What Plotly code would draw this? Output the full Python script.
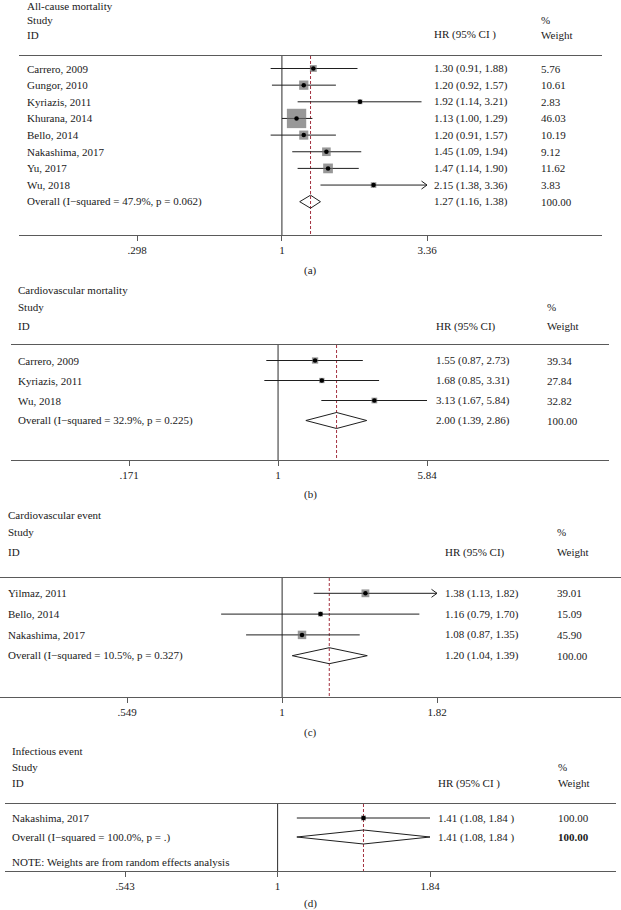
import math
import plotly.graph_objects as go

W, H = 621, 910

# ------------------------------------------------------------------ data
a_title = "All-cause mortality"
a_studies = ["Carrero, 2009", "Gungor, 2010", "Kyriazis, 2011", "Khurana, 2014",
             "Bello, 2014", "Nakashima, 2017", "Yu, 2017", "Wu, 2018"]
a_hr = [1.30, 1.20, 1.92, 1.13, 1.20, 1.45, 1.47, 2.15]
a_lo = [0.91, 0.92, 1.14, 1.00, 0.91, 1.09, 1.14, 1.38]
a_hi = [1.88, 1.57, 3.21, 1.29, 1.57, 1.94, 1.90, 3.36]
a_weight = [5.76, 10.61, 2.83, 46.03, 10.19, 9.12, 11.62, 3.83]
a_truncated = [False, False, False, False, False, False, False, True]
a_overall_label = "Overall (I\u2212squared = 47.9%, p = 0.062)"
a_overall = [1.27, 1.16, 1.38]
a_overall_weight = 100.00
a_ticks = [0.298, 1, 3.36]
a_ticklabels = [".298", "1", "3.36"]

b_title = "Cardiovascular mortality"
b_studies = ["Carrero, 2009", "Kyriazis, 2011", "Wu, 2018"]
b_hr = [1.55, 1.68, 3.13]
b_lo = [0.87, 0.85, 1.67]
b_hi = [2.73, 3.31, 5.84]
b_weight = [39.34, 27.84, 32.82]
b_truncated = [False, False, False]
b_overall_label = "Overall (I\u2212squared = 32.9%, p = 0.225)"
b_overall = [2.00, 1.39, 2.86]
b_overall_weight = 100.00
b_ticks = [0.171, 1, 5.84]
b_ticklabels = [".171", "1", "5.84"]

c_title = "Cardiovascular event"
c_studies = ["Yilmaz, 2011", "Bello, 2014", "Nakashima, 2017"]
c_hr = [1.38, 1.16, 1.08]
c_lo = [1.13, 0.79, 0.87]
c_hi = [1.82, 1.70, 1.35]
c_weight = [39.01, 15.09, 45.90]
c_truncated = [True, False, False]
c_overall_label = "Overall (I\u2212squared = 10.5%, p = 0.327)"
c_overall = [1.20, 1.04, 1.39]
c_overall_weight = 100.00
c_ticks = [0.549, 1, 1.82]
c_ticklabels = [".549", "1", "1.82"]

d_title = "Infectious event"
d_studies = ["Nakashima, 2017"]
d_hr = [1.41]
d_lo = [1.08]
d_hi = [1.84]
d_weight = [100.00]
d_truncated = [False]
d_overall_label = "Overall (I\u2212squared = 100.0%, p = .)"
d_overall = [1.41, 1.08, 1.84]
d_overall_weight = 100.00
d_ticks = [0.543, 1, 1.84]
d_ticklabels = [".543", "1", "1.84"]
d_note = "NOTE: Weights are from random effects analysis"

panel_letters = ["(a)", "(b)", "(c)", "(d)"]

# ------------------------------------------------------------------ styles / positions
FONT = "Liberation Serif, Times New Roman, serif"
FS = 11
TXT = "#1a1a1a"
GREY = "#6c6c6c"
RED = "#a3313f"
AXC = "#5a5a5a"

panels = [
    dict(title=a_title, studies=a_studies, hr=a_hr, lo=a_lo, hi=a_hi, w=a_weight, trunc=a_truncated,
         olab=a_overall_label, ov=a_overall, ow=a_overall_weight, ticks=a_ticks, ticklabels=a_ticklabels,
         L=19, R=602, top=56, bottom=235, row0=68.5, rowlast=201.7, tick_px=(137, 427),
         label_x=26, hr_x=433, wt_x=540, head_y=(6, 20, 35), hr_head="HR (95% CI )",
         letter_y=270, box_k=2.85, ci_fmt="{:.2f} ({:.2f}, {:.2f})", dia=6.5, note=None),
    dict(title=b_title, studies=b_studies, hr=b_hr, lo=b_lo, hi=b_hi, w=b_weight, trunc=b_truncated,
         olab=b_overall_label, ov=b_overall, ow=b_overall_weight, ticks=b_ticks, ticklabels=b_ticklabels,
         L=11, R=609, top=345, bottom=460, row0=360.5, rowlast=420.5, tick_px=(129, 427),
         label_x=17, hr_x=435, wt_x=546, head_y=(290, 307, 326), hr_head="HR (95% CI)",
         letter_y=495, box_k=1.0, ci_fmt="{:.2f} ({:.2f}, {:.2f})", dia=8, note=None),
    dict(title=c_title, studies=c_studies, hr=c_hr, lo=c_lo, hi=c_hi, w=c_weight, trunc=c_truncated,
         olab=c_overall_label, ov=c_overall, ow=c_overall_weight, ticks=c_ticks, ticklabels=c_ticklabels,
         L=0, R=621, top=578, bottom=697, row0=593.3, rowlast=655.7, tick_px=(127, 437),
         label_x=7, hr_x=444, wt_x=556, head_y=(515, 532, 552), hr_head="HR (95% CI)",
         letter_y=732, box_k=1.25, ci_fmt="{:.2f} ({:.2f}, {:.2f})", dia=8, note=None),
    dict(title=d_title, studies=d_studies, hr=d_hr, lo=d_lo, hi=d_hi, w=d_weight, trunc=d_truncated,
         olab=d_overall_label, ov=d_overall, ow=d_overall_weight, ticks=d_ticks, ticklabels=d_ticklabels,
         L=5, R=616, top=804, bottom=871, row0=818, rowlast=837, tick_px=(125, 430),
         label_x=11, hr_x=437, wt_x=557, head_y=(751, 767, 783), hr_head="HR (95% CI )",
         letter_y=903, box_k=0.5, ci_fmt="{:.2f} ({:.2f}, {:.2f} )", dia=7, note=d_note),
]


def py(p):  # pixel-from-top -> paper y
    return 1 - p / H


fig = go.Figure()
annotations = []
layout_axes = {}

for i, P in enumerate(panels):
    n = i + 1
    xa = "x" if n == 1 else f"x{n}"
    ya = "y" if n == 1 else f"y{n}"
    xkey = "xaxis" if n == 1 else f"xaxis{n}"
    ykey = "yaxis" if n == 1 else f"yaxis{n}"

    nrows = len(P["studies"]) + 1
    sp = (P["rowlast"] - P["row0"]) / (nrows - 1) if nrows > 1 else 19
    y_top = -(P["row0"] - P["top"]) / sp
    y_bot = (nrows - 1) + (P["bottom"] - P["rowlast"]) / sp

    lo_t, hi_t = P["ticks"][0], P["ticks"][-1]
    px_lo, px_hi = P["tick_px"]
    s = (px_hi - px_lo) / (math.log10(hi_t) - math.log10(lo_t))
    xr = [math.log10(lo_t) - (px_lo - P["L"]) / s, math.log10(hi_t) + (P["R"] - px_hi) / s]

    layout_axes[xkey] = dict(
        type="log", range=xr, domain=[P["L"] / W, P["R"] / W], anchor=ya,
        showline=True, linecolor=AXC, linewidth=1, mirror=True,
        showgrid=False, zeroline=False,
        tickmode="array", tickvals=P["ticks"], ticktext=P["ticklabels"],
        ticks="outside", ticklen=5, tickcolor=AXC, tickwidth=1,
        tickfont=dict(family=FONT, size=FS, color=TXT), fixedrange=True,
    )
    layout_axes[ykey] = dict(
        range=[y_bot, y_top], domain=[py(P["bottom"]), py(P["top"])], anchor=xa,
        visible=False, showgrid=False, zeroline=False, fixedrange=True,
    )

    rows = list(range(len(P["studies"])))
    orow = len(P["studies"])

    # reference line at 1
    fig.add_trace(go.Scatter(x=[1, 1], y=[y_top, y_bot], mode="lines",
                             line=dict(color="#2b2b2b", width=1), xaxis=xa, yaxis=ya,
                             hoverinfo="skip", cliponaxis=False))
    # overall dashed line
    fig.add_trace(go.Scatter(x=[P["ov"][0], P["ov"][0]], y=[y_top, y_bot], mode="lines",
                             line=dict(color=RED, width=1, dash="3px,2px"), xaxis=xa, yaxis=ya,
                             hoverinfo="skip", cliponaxis=False))

    # CI lines
    cx, cy = [], []
    for r, l, h in zip(rows, P["lo"], P["hi"]):
        cx += [l, h, None]
        cy += [r, r, None]
    fig.add_trace(go.Scatter(x=cx, y=cy, mode="lines", line=dict(color="#1f1f1f", width=1),
                             xaxis=xa, yaxis=ya, hoverinfo="skip"))

    # truncation arrows (chevrons)
    ax_, ay_ = [], []
    for r, h, t in zip(rows, P["hi"], P["trunc"]):
        if t:
            lh = math.log10(h)
            ax_ += [10 ** (lh - 5.5 / s), h, 10 ** (lh - 5.5 / s), None]
            ay_ += [r - 4 / sp, r, r + 4 / sp, None]
    if ax_:
        fig.add_trace(go.Scatter(x=ax_, y=ay_, mode="lines", line=dict(color="#1f1f1f", width=1),
                                 xaxis=xa, yaxis=ya, hoverinfo="skip", cliponaxis=False))

    # weight boxes
    fig.add_trace(go.Scatter(x=P["hr"], y=rows, mode="markers",
                             marker=dict(symbol="square", color=GREY,
                                         size=[P["box_k"] * math.sqrt(w) for w in P["w"]],
                                         line=dict(width=0)),
                             xaxis=xa, yaxis=ya, hoverinfo="skip"))
    # point estimate dots
    fig.add_trace(go.Scatter(x=P["hr"], y=rows, mode="markers",
                             marker=dict(symbol="circle", color="black", size=4.5, line=dict(width=0)),
                             xaxis=xa, yaxis=ya, hoverinfo="skip"))

    # overall diamond
    est, olo, ohi = P["ov"]
    dh = P["dia"] / sp
    fig.add_trace(go.Scatter(x=[olo, est, ohi, est, olo], y=[orow, orow - dh, orow, orow + dh, orow],
                             mode="lines", line=dict(color="#1f1f1f", width=1),
                             xaxis=xa, yaxis=ya, hoverinfo="skip"))

    # ---- text
    def txt(x_px, y, text, yref="paper", bold=False):
        annotations.append(dict(
            x=x_px / W, xref="paper", xanchor="left",
            y=y, yref=yref, yanchor="middle",
            text=("<b>%s</b>" % text) if bold else text, showarrow=False,
            font=dict(family=FONT, size=FS, color=TXT),
            borderpad=0))

    ty, sy, iy = P["head_y"]
    txt(P["label_x"], py(ty), P["title"])
    txt(P["label_x"], py(sy), "Study")
    txt(P["label_x"], py(iy), "ID")
    txt(P["hr_x"], py(iy), P["hr_head"])
    txt(P["wt_x"], py(sy), "%")
    txt(P["wt_x"], py(iy), "Weight")

    for r, name, h, l, u, w in zip(rows, P["studies"], P["hr"], P["lo"], P["hi"], P["w"]):
        txt(P["label_x"], r, name, yref=ya)
        txt(P["hr_x"], r, P["ci_fmt"].format(h, l, u), yref=ya)
        txt(P["wt_x"], r, "%.2f" % w, yref=ya)
    txt(P["label_x"], orow, P["olab"], yref=ya)
    txt(P["hr_x"], orow, P["ci_fmt"].format(est, olo, ohi), yref=ya)
    txt(P["wt_x"], orow, "%.2f" % P["ow"], yref=ya, bold=(P["note"] is not None))
    if P["note"]:
        txt(P["label_x"], py(862), P["note"])

    annotations.append(dict(x=0.5, xref="paper", xanchor="center", y=py(P["letter_y"]), yref="paper",
                            yanchor="middle", text=panel_letters[i], showarrow=False,
                            font=dict(family=FONT, size=FS, color=TXT)))

fig.update_layout(
    width=W, height=H, margin=dict(l=0, r=0, t=0, b=0),
    paper_bgcolor="white", plot_bgcolor="white", showlegend=False,
    annotations=annotations, **layout_axes,
)

fig.write_html("out.html", config={"displayModeBar": False},
               post_script="document.body.style.margin='0';document.body.style.overflow='hidden';")
